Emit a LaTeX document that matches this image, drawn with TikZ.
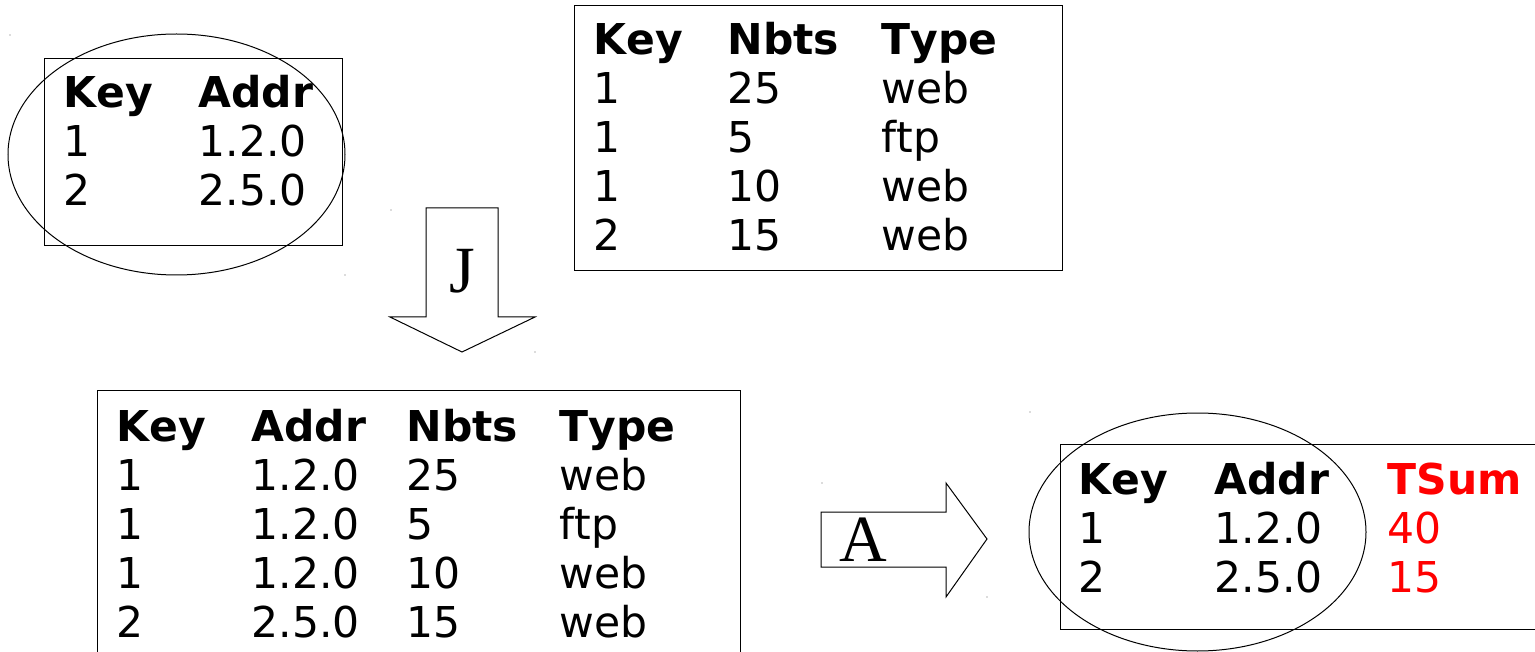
\documentclass[tikz,border=0pt]{standalone}
\usepackage{fontspec}
\setmainfont{DejaVu Sans}[Kerning=Off]
\newfontfamily\letterfont{Liberation Serif}
\begin{document}
\begin{tikzpicture}[x=1pt,y=-1pt,line width=1pt,
  cell/.style={anchor=base west,inner sep=0pt,font=\fontsize{42.5pt}{49pt}\selectfont},
  hd/.style={anchor=base west,inner sep=0pt,font=\fontsize{42.5pt}{49pt}\selectfont\bfseries},
  res/.style={text=red},
  opletter/.style={anchor=base,inner sep=0pt,font=\fontsize{66pt}{70pt}\selectfont\letterfont},
  frame/.style={draw=black,line width=1pt},
  speck/.style={fill=black!60,draw=none}]
\useasboundingbox (0,0) rectangle (1535,652);
\clip (0,0) rectangle (1535,652);

% ---- top-left table ----
\draw[frame] (44,59) rectangle (342,246);
\node[hd] (aK) at (63,108) {Key};
\node[hd] (aA) at (198,108) {Addr};
\node[cell] (a1k) at (63,157) {1};
\node[cell] (a1a) at (198,157) {1.2.0};
\node[cell] (a2k) at (63,206) {2};
\node[cell] (a2a) at (198,206) {2.5.0};
\draw[frame] (176.5,154.5) ellipse [x radius=168.5pt, y radius=120.5pt];

% ---- top-right table ----
\draw[frame] (574,6) rectangle (1062,271);
\node[hd] (bK) at (593,55) {Key};
\node[hd] (bN) at (727,55) {Nbts};
\node[hd] (bT) at (881,55) {Type};
\node[cell] (b1k) at (593,104) {1};
\node[cell] (b1n) at (727,104) {25};
\node[cell] (b1t) at (881,104) {web};
\node[cell] (b2k) at (593,153) {1};
\node[cell] (b2n) at (727,153) {5};
\node[cell] (b2t) at (881,153) {ftp};
\node[cell] (b3k) at (593,202) {1};
\node[cell] (b3n) at (727,202) {10};
\node[cell] (b3t) at (881,202) {web};
\node[cell] (b4k) at (593,251) {2};
\node[cell] (b4n) at (727,251) {15};
\node[cell] (b4t) at (881,251) {web};

% ---- J arrow ----
\draw[frame,fill=white] (426,208) -- (498,208) -- (498,317) -- (535,317) -- (462,352)
  -- (390,317) -- (426,317) -- cycle;
\node[opletter] (J) at (462,293) {J};

% ---- bottom-left joined table ----
\draw[frame] (97,391) rectangle (740,720);
\node[hd] (cK) at (116,441) {Key};
\node[hd] (cA) at (251,441) {Addr};
\node[hd] (cN) at (406,441) {Nbts};
\node[hd] (cT) at (559,441) {Type};
\node[cell] (c1k) at (116,490) {1};
\node[cell] (c1a) at (251,490) {1.2.0};
\node[cell] (c1n) at (406,490) {25};
\node[cell] (c1t) at (559,490) {web};
\node[cell] (c2k) at (116,539) {1};
\node[cell] (c2a) at (251,539) {1.2.0};
\node[cell] (c2n) at (406,539) {5};
\node[cell] (c2t) at (559,539) {ftp};
\node[cell] (c3k) at (116,588) {1};
\node[cell] (c3a) at (251,588) {1.2.0};
\node[cell] (c3n) at (406,588) {10};
\node[cell] (c3t) at (559,588) {web};
\node[cell] (c4k) at (116,637) {2};
\node[cell] (c4a) at (251,637) {2.5.0};
\node[cell] (c4n) at (406,637) {15};
\node[cell] (c4t) at (559,637) {web};

% ---- A arrow ----
\draw[frame,fill=white] (821,512) -- (946,512) -- (946,483) -- (987,539) -- (946,597)
  -- (946,567) -- (821,567) -- cycle;
\node[opletter] (A) at (863,561) {A};

% ---- result table ----
\draw[frame] (1060,444) rectangle (1600,629);
\node[hd] (dK) at (1078,494) {Key};
\node[hd] (dA) at (1214,494) {Addr};
\node[hd,res] (dS) at (1387,494) {TSum};
\node[cell] (d1k) at (1078,543) {1};
\node[cell] (d1a) at (1214,543) {1.2.0};
\node[cell,res] (d1s) at (1387,543) {40};
\node[cell] (d2k) at (1078,592) {2};
\node[cell] (d2a) at (1214,592) {2.5.0};
\node[cell,res] (d2s) at (1387,592) {15};
\draw[frame] (1197.5,532) ellipse [x radius=168.5pt, y radius=119pt];

% ---- tiny specks ----
\foreach \p in {(10,35),(391,210),(345,275),(535,352),(822,483),(987,597),(1030,412)}
  \fill[speck] \p circle (0.7pt);
\end{tikzpicture}
\end{document}
